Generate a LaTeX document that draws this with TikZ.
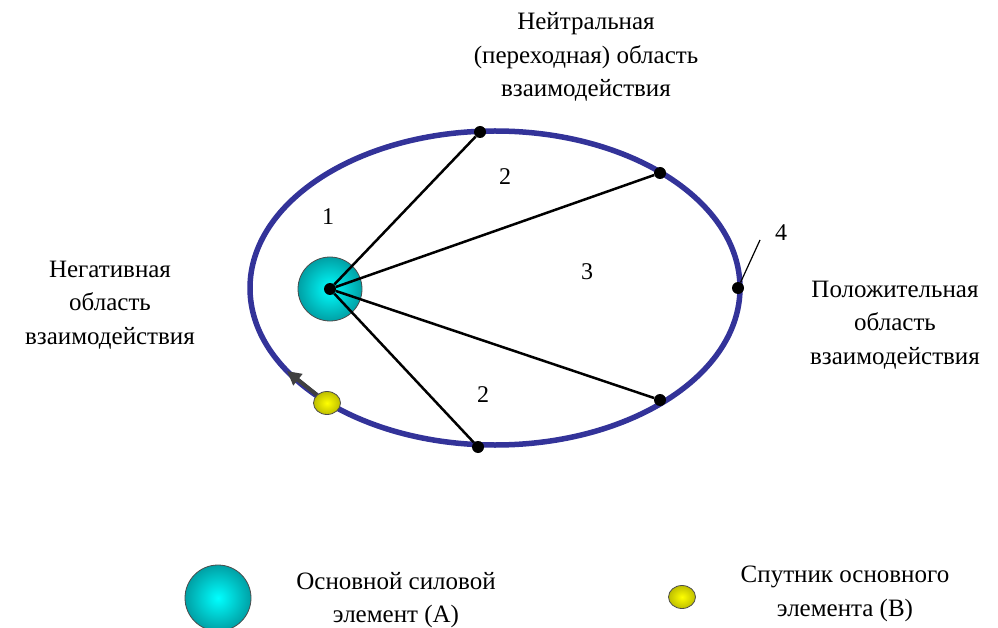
\documentclass[tikz,border=0pt]{standalone}
\usepackage{fontspec}
\setmainfont{Liberation Serif}
\usetikzlibrary{positioning,arrows.meta,shapes.geometric}
\definecolor{orbit}{RGB}{51,51,153}
\definecolor{ballA}{RGB}{0,255,255}
\definecolor{ballAedge}{RGB}{0,160,165}
\definecolor{ballB}{RGB}{255,255,0}
\definecolor{ballBedge}{RGB}{190,190,0}

\begin{document}
\begin{tikzpicture}[x=1pt, y=-1pt, >=Stealth,
  lbl/.style={font=\fontsize{25}{33.5}\selectfont, align=center},
  num/.style={font=\fontsize{24}{26}\selectfont},
  dot/.style={circle, fill=black, inner sep=0pt, minimum size=12pt},
  ray/.style={line width=2.5pt},
  main/.style={circle, draw=black!70, line width=0.8pt, inner color=ballA, outer color=ballAedge, minimum size=#1},
  sat/.style={ellipse, draw=black!70, line width=0.8pt, inner color=ballB, outer color=ballBedge, minimum width=27pt, minimum height=23pt, inner sep=0pt}]
\useasboundingbox (0,0) rectangle (998,628);

% orbit
\draw[orbit, line width=5.5pt] (495,288) ellipse [x radius=245, y radius=157];

% main element and satellite
\node[main=64pt] (elemA) at (330,289) {};
\node[dot] (ctr) at (330,289) {};
\node[dot] (ptop) at (480,132) {};
\node[dot] (pupr) at (660,173) {};
\node[dot] (pright) at (738,288) {};
\node[dot] (plwr) at (660,400) {};
\node[dot] (pbot) at (478,447) {};
\draw[ray] (ctr) -- (ptop);
\draw[ray] (ctr) -- (pupr);
\draw[ray] (ctr) -- (plwr);
\draw[ray] (ctr) -- (pbot);

\node[sat] (elemB) at (327,403) {};
\coordinate (mv) at (287,371);
\draw[->, black!75, line width=4pt, -{Triangle[length=14pt, width=14pt]}] (elemB) -- (mv);

% numbers
\node[num] (n1) at (328,217) {1};
\node[num] (n2a) at (505,177) {2};
\node[num] (n3) at (587,272) {3};
\node[num] (n2b) at (483,395) {2};
\node[num] (n4) at (781,233) {4};
\coordinate (t4) at (760,240);
\draw[line width=1.2pt] (pright) -- (t4);

% regions
\node[lbl] (neutral) at (586,57) {Нейтральная\\(переходная) область\\взаимодействия};
\node[lbl] (neg) at (110,305) {Негативная\\область\\взаимодействия};
\node[lbl] (pos) at (895,325) {Положительная\\область\\взаимодействия};

% legend
\node[main=66pt] (legA) at (218,598) {};
\node[lbl] (legAtxt) at (396,600) {Основной силовой\\элемент (А)};
\node[sat] (legB) at (682,597) {};
\node[lbl] (legBtxt) at (845,594) {Спутник основного\\элемента (В)};
\end{tikzpicture}
\end{document}
